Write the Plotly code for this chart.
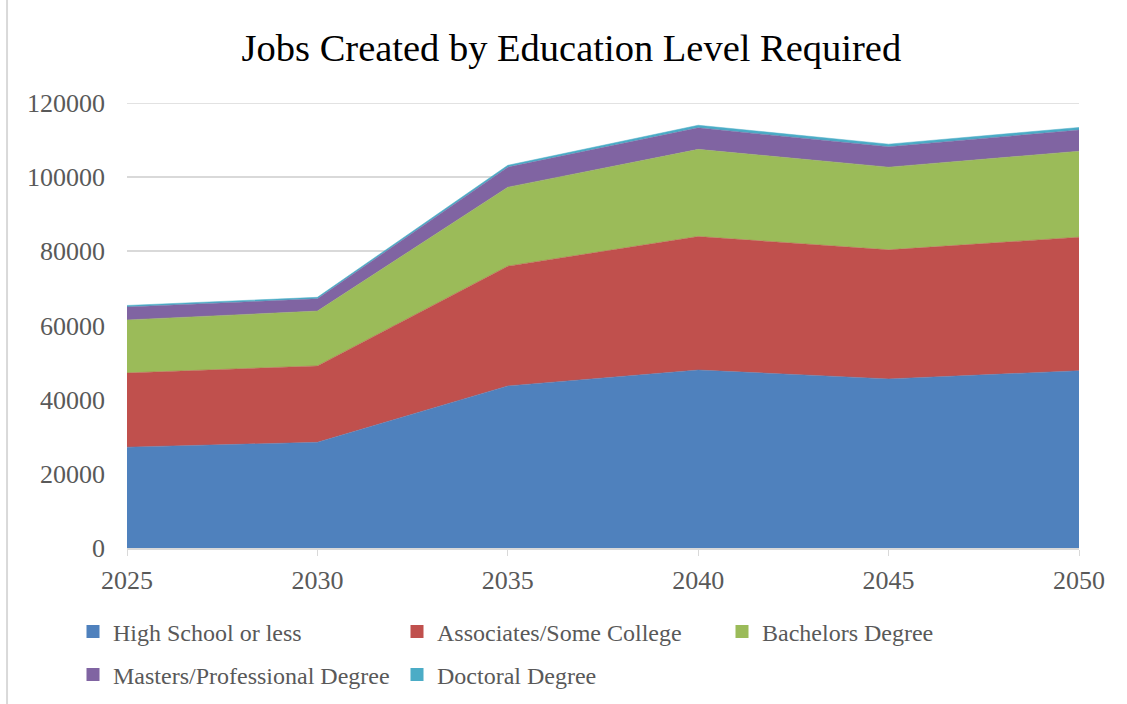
import plotly.graph_objects as go

years = [2025, 2030, 2035, 2040, 2045, 2050]
high_school = [27200, 28500, 43700, 48000, 45600, 47800]
associates = [20000, 20600, 32300, 36000, 34800, 36000]
bachelors = [14300, 14800, 21300, 23500, 22300, 23200]
masters = [3500, 3300, 5400, 5800, 5500, 5700]
doctoral = [400, 400, 500, 700, 700, 700]
y_max = 120000

series = [
    ("High School or less", high_school, "#4F81BD"),
    ("Associates/Some College", associates, "#C0504D"),
    ("Bachelors Degree", bachelors, "#9BBB59"),
    ("Masters/Professional Degree", masters, "#8064A2"),
    ("Doctoral Degree", doctoral, "#4BACC6"),
]

FONT = "Liberation Serif, DejaVu Serif, serif"

# legend slot positions (pixels) for each series
L_PLOT, R_PLOT, T_PLOT, B_PLOT = 127, 1079, 103, 548
legend_px = [(73, 632), (397, 632), (722, 632), (73, 675), (397, 675)]

fig = go.Figure()
for name, vals, color in series:
    fig.add_trace(go.Scatter(
        x=years, y=vals, name=name, mode="lines", stackgroup="one",
        line=dict(width=0.5, color=color), fillcolor=color, showlegend=False,
    ))

legend_layout = {}
for i, (name, vals, color) in enumerate(series):
    key = "legend" if i == 0 else f"legend{i+1}"
    fig.add_trace(go.Scatter(
        x=[None], y=[None], mode="markers", name=name, legend=key,
        marker=dict(symbol="square", size=13, color=color), showlegend=True,
    ))
    px, py = legend_px[i]
    legend_layout[key] = dict(
        x=(px - L_PLOT) / (R_PLOT - L_PLOT), xanchor="left",
        y=(B_PLOT - py) / (B_PLOT - T_PLOT), yanchor="middle",
        font=dict(family=FONT, size=24, color="#595959"),
        bgcolor="rgba(0,0,0,0)", itemwidth=30,
    )

fig.update_layout(
    width=1127, height=704,
    margin=dict(l=L_PLOT, r=1127 - R_PLOT, t=T_PLOT, b=704 - B_PLOT, autoexpand=False),
    paper_bgcolor="white", plot_bgcolor="white",
    font=dict(family=FONT, size=18, color="#595959"),
    title=dict(text="Jobs Created by Education Level Required",
               x=0.507, xanchor="center", y=0.932, yanchor="middle",
               font=dict(family=FONT, size=38.5, color="#000000")),
    xaxis=dict(range=[2025, 2050], tickvals=years, ticktext=[str(y) for y in years],
               showgrid=False, showline=True, linecolor="#d9d9d9", linewidth=1.5,
               ticks="outside", ticklen=6, tickcolor="#d9d9d9", automargin=False,
               tickfont=dict(size=26), zeroline=False, ticklabelstandoff=2),
    yaxis=dict(range=[0, y_max], dtick=20000, tickformat="d", automargin=False,
               showgrid=True, gridcolor="#d9d9d9",
               gridwidth=1.5, zeroline=False, showline=False, ticks="",
               tickfont=dict(size=26), ticklabelstandoff=21),
    shapes=[
        dict(type="line", xref="paper", yref="paper", x0=-0.126, x1=-0.126,
             y0=-0.5, y1=1.5, line=dict(color="#d9d9d9", width=2)),
        dict(type="line", xref="paper", yref="y", x0=0, x1=1, y0=y_max, y1=y_max,
             line=dict(color="#d9d9d9", width=1.5), layer="below"),
    ],
    **legend_layout,
)

fig.write_html("out.html")
